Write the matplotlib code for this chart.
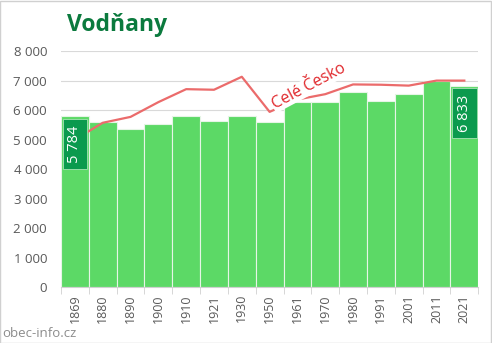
import matplotlib.pyplot as plt
import numpy as np
from matplotlib.patches import Rectangle

plt.rcParams['font.family'] = ['Open Sans', 'DejaVu Sans']

# population by census year
years = ["1869", "1880", "1890", "1900", "1910", "1921", "1930", "1950",
         "1961", "1970", "1980", "1991", "2001", "2011", "2021"]
population = [5784, 5580, 5360, 5525, 5800, 5630, 5800, 5600,
              6280, 6280, 6620, 6320, 6555, 6985, 6833]
# whole-country trend scaled to the town
country = [5000, 5570, 5770, 6270, 6710, 6690, 7130, 5940,
           6360, 6540, 6870, 6860, 6830, 7000, 7000]
y_ticks = [0, 1000, 2000, 3000, 4000, 5000, 6000, 7000, 8000]

BAR = "#5cd966"
LINE = "#eb6b6b"
DARK = "#0b9a4e"
GREY = "#595959"

fig = plt.figure(figsize=(4.92, 3.43), dpi=100)
ax = fig.add_axes([0.124, 0.163, 0.848, 0.688])

x = np.arange(len(years))
ax.bar(x, population, width=1.0, color=BAR, edgecolor="#e6f5e6", linewidth=0.8, zorder=2)
ax.plot(x, country, color=LINE, linewidth=1.6, zorder=3)

ax.set_xlim(-0.5, len(years) - 0.5)
ax.set_ylim(0, 8000)
ax.set_yticks(y_ticks)
ax.set_yticklabels([f"{v:,}".replace(",", " ") for v in y_ticks])
ax.set_xticks(x)
ax.set_xticklabels(years, rotation=90)
ax.set_xticks(np.arange(-0.5, len(years)), minor=True)
ax.tick_params(axis="x", which="major", length=0, labelsize=9, colors=GREY, pad=5)
ax.tick_params(axis="x", which="minor", length=5, color="#d0d0d0")
ax.tick_params(axis="y", length=0, labelsize=9.5, colors=GREY, pad=10)
ax.grid(axis="y", color="#d9d9d9", linewidth=0.8, zorder=0)
for s in ["top", "right", "left"]:
    ax.spines[s].set_visible(False)
ax.spines["bottom"].set_color("#d0d0d0")

# first and last value tags
for i in (0, len(years) - 1):
    v = population[i]
    top = v - 90
    ax.add_patch(Rectangle((i - 0.44, top - 1700), 0.88, 1700, facecolor=DARK,
                           edgecolor="#a8e4b4", linewidth=0.6, zorder=4))
    ax.text(i, top - 850, f"{v:,}".replace(",", " "), rotation=90, color="white",
            fontsize=10.5, ha="center", va="center", zorder=5)

ax.text(8.4, 6800, "Celé Česko", rotation=28, color="#e0262a", fontsize=11.5,
        ha="center", va="center", zorder=5,
        bbox=dict(facecolor="white", edgecolor="none", pad=0.3))

fig.text(0.136, 0.927, "Vodňany", fontsize=16.5, fontweight="bold", color="#0b7a3e",
         ha="left", va="center")
fig.text(0.004, 0.028, "obec-info.cz", fontsize=9.5, color="#8c8c8c", ha="left", va="center")

fig.patches.append(Rectangle((0.001, 0.001), 0.997, 0.996, transform=fig.transFigure,
                             fill=False, edgecolor="#d0d0d0", linewidth=1))

fig.savefig("out.png", dpi=100)
